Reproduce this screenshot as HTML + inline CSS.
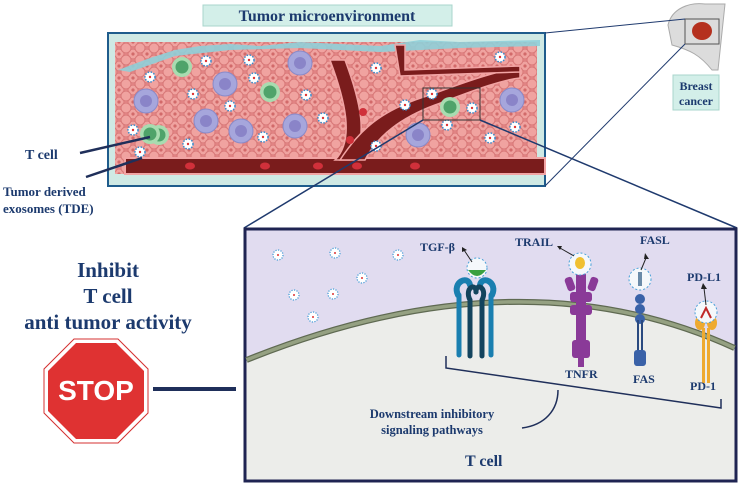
<!DOCTYPE html>
<html><head><meta charset="utf-8"><style>
html,body{margin:0;padding:0;background:#fff;width:744px;height:486px;overflow:hidden}
svg{display:block}
text{font-family:"Liberation Serif",serif;font-weight:bold;fill:#1c3a6e}
</style></head><body>
<svg width="744" height="486" viewBox="0 0 744 486" xmlns="http://www.w3.org/2000/svg">
<defs>
<pattern id="cells" width="14" height="12" patternUnits="userSpaceOnUse">
<rect width="14" height="12" fill="#e98c8c"/>
<circle cx="7" cy="6" r="5" fill="#f0a3a0" stroke="#d87878" stroke-width="1"/>
<circle cx="0" cy="0" r="5" fill="#f0a3a0" stroke="#d87878" stroke-width="1"/>
<circle cx="14" cy="0" r="5" fill="#f0a3a0" stroke="#d87878" stroke-width="1"/>
<circle cx="0" cy="12" r="5" fill="#f0a3a0" stroke="#d87878" stroke-width="1"/>
<circle cx="14" cy="12" r="5" fill="#f0a3a0" stroke="#d87878" stroke-width="1"/>
<circle cx="7" cy="6" r="1.6" fill="#d26a6a"/>
</pattern>
<g id="exo"><circle r="5" fill="#fff" stroke="#3a8ccc" stroke-width="1.5" stroke-dasharray="1.5 1.5"/><circle r="1.2" fill="#d33"/></g>
<g id="tc"><circle r="10" fill="#a8dcb0"/><circle r="6.5" fill="#4fa36a"/></g>
<g id="mc"><circle r="12" fill="#a6a6dc" stroke="#8a8ac8"/><circle r="6" fill="#8a84c8"/></g>
<g id="sexo"><circle r="5" fill="#fff" stroke="#4aa0d8" stroke-width="1.3" stroke-dasharray="1.2 1.4"/><circle r="1" fill="#d33"/></g>
</defs>

<!-- title -->
<rect x="203" y="5" width="249" height="21" fill="#d3efe9" stroke="#a8d6cc"/>
<text x="327" y="21" font-size="16" text-anchor="middle">Tumor microenvironment</text>

<!-- tissue box -->
<rect x="108" y="33" width="437" height="153" fill="#cfe9e4" stroke="#1f5c8c" stroke-width="2"/>
<rect x="115" y="42" width="422" height="132" fill="url(#cells)"/>
<!-- fibroblasts/top -->
<path d="M118 70 L150 58 L175 50 L200 46 L230 44 L260 46 L300 42 L340 44 L380 46 L420 40 L460 42 L540 40 L540 46 L460 48 L380 52 L300 48 L230 50 L175 56 L130 72 Z" fill="#8fcfd8" opacity="0.9"/>
<!-- vessels -->
<rect x="125" y="158" width="420" height="16" fill="#7a1c1c" stroke="#f2a4a4" stroke-width="2"/>
<path d="M335 160 C355 140 345 100 330 60 L345 60 C360 100 370 140 350 160 Z" fill="#7a1c1c" stroke="#f2a4a4" stroke-width="1.5"/>
<path d="M340 160 C360 130 380 110 430 95 C470 80 500 70 520 68 L520 78 C500 80 470 92 435 105 C395 120 375 140 365 160 Z" fill="#7a1c1c" stroke="#f2a4a4" stroke-width="1.5"/>
<path d="M395 45 L405 45 L405 70 L520 66 L520 72 L400 76 Z" fill="#7a1c1c" stroke="#f2a4a4" stroke-width="1.5"/>
<g fill="#d0303a"><ellipse cx="190" cy="166" rx="5" ry="3.5"/><ellipse cx="265" cy="166" rx="5" ry="3.5"/><ellipse cx="318" cy="166" rx="5" ry="3.5"/><ellipse cx="357" cy="166" rx="5" ry="3.5"/><ellipse cx="415" cy="166" rx="5" ry="3.5"/><ellipse cx="350" cy="140" rx="4" ry="4"/><ellipse cx="363" cy="112" rx="4" ry="4"/></g>
<!-- cells -->
<use href="#tc" x="182" y="67"/><use href="#tc" x="270" y="92"/><use href="#tc" x="159" y="135"/><use href="#tc" x="450" y="107"/><use href="#tc" x="150" y="134"/>
<use href="#mc" x="225" y="84"/><use href="#mc" x="146" y="101"/><use href="#mc" x="206" y="121"/><use href="#mc" x="241" y="131"/><use href="#mc" x="300" y="63"/><use href="#mc" x="295" y="126"/><use href="#mc" x="418" y="135"/><use href="#mc" x="512" y="100"/>
<use href="#exo" x="150" y="77"/><use href="#exo" x="206" y="61"/><use href="#exo" x="249" y="60"/><use href="#exo" x="193" y="94"/><use href="#exo" x="254" y="78"/><use href="#exo" x="230" y="106"/><use href="#exo" x="306" y="95"/><use href="#exo" x="323" y="118"/><use href="#exo" x="263" y="137"/><use href="#exo" x="188" y="144"/><use href="#exo" x="133" y="130"/><use href="#exo" x="140" y="152"/><use href="#exo" x="376" y="68"/><use href="#exo" x="405" y="105"/><use href="#exo" x="432" y="94"/><use href="#exo" x="472" y="108"/><use href="#exo" x="447" y="125"/><use href="#exo" x="376" y="146"/><use href="#exo" x="500" y="57"/><use href="#exo" x="515" y="127"/><use href="#exo" x="490" y="138"/>
<rect x="423" y="88" width="57" height="32" fill="none" stroke="#333" stroke-width="1"/>

<!-- breast icon -->
<path d="M668 25 C672 8 690 2 705 4 L725 4 L718 70 L712 70 C700 55 690 50 672 45 Z" fill="#dcdcdc" stroke="#aaa"/>
<rect x="685" y="19" width="34" height="25" fill="none" stroke="#555"/>
<ellipse cx="702" cy="31" rx="10" ry="9" fill="#b5301e"/>
<rect x="673" y="75" width="46" height="35" fill="#d3efe9" stroke="#a8d6cc"/>
<text x="696" y="90" font-size="12" text-anchor="middle">Breast</text>
<text x="696" y="105" font-size="12" text-anchor="middle">cancer</text>
<line x1="545" y1="33" x2="685" y2="19" stroke="#1f3a6e" stroke-width="1"/>
<line x1="545" y1="186" x2="685" y2="44" stroke="#1f3a6e" stroke-width="1"/>

<!-- zoom lines -->
<line x1="423" y1="120" x2="244" y2="228" stroke="#1f3a6e" stroke-width="1.5"/>
<line x1="480" y1="120" x2="737" y2="228" stroke="#1f3a6e" stroke-width="1.5"/>

<!-- left labels -->
<text x="25" y="159" font-size="14">T cell</text>
<line x1="80" y1="153" x2="150" y2="137" stroke="#1f2f5a" stroke-width="2.5"/>
<line x1="86" y1="177" x2="142" y2="158" stroke="#1f2f5a" stroke-width="2.5"/>
<text x="3" y="196" font-size="13">Tumor derived</text>
<text x="3" y="213" font-size="13">exosomes (TDE)</text>

<text x="108" y="277" font-size="21" text-anchor="middle">Inhibit</text>
<text x="108" y="303" font-size="21" text-anchor="middle">T cell</text>
<text x="108" y="329" font-size="21" text-anchor="middle">anti tumor activity</text>

<!-- stop -->
<polygon points="74,339 118,339 148,369 148,413 118,443 74,443 44,413 44,369" fill="#fff" stroke="#d43030" stroke-width="1"/>
<polygon points="76,343 116,343 144,371 144,411 116,439 76,439 48,411 48,371" fill="#df3232"/>
<text x="96" y="400" font-size="28" text-anchor="middle" style="font-family:'Liberation Sans',sans-serif;fill:#fff">STOP</text>
<line x1="153" y1="389" x2="236" y2="389" stroke="#1f2f5a" stroke-width="4"/>

<!-- bottom panel -->
<rect x="245" y="229" width="491" height="252" fill="#e1dcf0" stroke="#1f2452" stroke-width="3"/>
<path d="M246.5 360 Q520 250 734.5 348 L734.5 479.5 L246.5 479.5 Z" fill="#ecedea"/>
<path d="M246.5 360 Q520 250 734.5 348" fill="none" stroke="#5f6a52" stroke-width="6"/>
<path d="M246.5 360 Q520 250 734.5 348" fill="none" stroke="#95a182" stroke-width="3.5"/>
<use href="#sexo" x="278" y="255"/><use href="#sexo" x="335" y="253"/><use href="#sexo" x="398" y="255"/><use href="#sexo" x="362" y="278"/><use href="#sexo" x="294" y="295"/><use href="#sexo" x="333" y="294"/><use href="#sexo" x="313" y="317"/>

<!-- TGF receptor -->
<g stroke-linecap="round">
<path d="M458 295 C452 282 468 275 470 285" fill="none" stroke="#1a7fb0" stroke-width="6"/>
<path d="M492 295 C498 282 482 275 480 285" fill="none" stroke="#1a7fb0" stroke-width="6"/>
<line x1="459" y1="295" x2="459" y2="355" stroke="#1a7fb0" stroke-width="5"/>
<line x1="491" y1="295" x2="491" y2="355" stroke="#1a7fb0" stroke-width="5"/>
<path d="M470 300 C464 288 476 282 476 292" fill="none" stroke="#13445e" stroke-width="5"/>
<path d="M482 300 C488 288 476 282 476 292" fill="none" stroke="#13445e" stroke-width="5"/>
<line x1="470" y1="300" x2="470" y2="356" stroke="#13445e" stroke-width="5"/>
<line x1="482" y1="300" x2="482" y2="356" stroke="#13445e" stroke-width="5"/>
</g>
<circle cx="477" cy="268" r="10" fill="#f5f8fb" stroke="#4aa0d8" stroke-dasharray="2 2"/>
<path d="M468 270 Q477 282 486 270 Z" fill="#3aa040"/>
<line x1="472" y1="262" x2="464" y2="250" stroke="#222" stroke-width="1"/><polygon points="462,247 467,250 462,252" fill="#222"/>
<text x="420" y="251" font-size="12">TGF-β</text>

<!-- TNFR -->
<g fill="#8a3a98">
<rect x="566" y="277" width="8" height="14" rx="3" transform="rotate(-20 570 284)"/>
<rect x="589" y="277" width="8" height="14" rx="3" transform="rotate(20 593 284)"/>
<rect x="576" y="272" width="10" height="80" rx="3"/>
<rect x="570" y="292" width="22" height="10" rx="3"/>
<rect x="570" y="305" width="22" height="10" rx="3"/>
<rect x="572" y="340" width="18" height="18" rx="3"/>
<rect x="578" y="355" width="6" height="12"/>
</g>
<circle cx="580" cy="264" r="11" fill="#f5f8fb" stroke="#4aa0d8" stroke-dasharray="2 2"/>
<ellipse cx="580" cy="263" rx="5" ry="6" fill="#f0c030"/>
<line x1="574" y1="256" x2="560" y2="248" stroke="#222"/><polygon points="557,246 562,246 560,250" fill="#222"/>
<text x="515" y="246" font-size="12">TRAIL</text>
<text x="565" y="378" font-size="12">TNFR</text>

<!-- FAS -->
<g fill="#3a62a8">
<circle cx="640" cy="299" r="5"/><circle cx="640" cy="309" r="5"/><circle cx="640" cy="319" r="5"/>
<line x1="638" y1="320" x2="638" y2="355" stroke="#2a4a80" stroke-width="2"/>
<line x1="642" y1="320" x2="642" y2="355" stroke="#2a4a80" stroke-width="2"/>
<rect x="634" y="350" width="12" height="16" rx="3"/>
</g>
<circle cx="640" cy="279" r="11" fill="#f5f8fb" stroke="#4aa0d8" stroke-dasharray="2 2"/>
<rect x="638" y="272" width="4" height="14" fill="#6a8aa8"/>
<line x1="641" y1="270" x2="646" y2="258" stroke="#222"/><polygon points="645,253 649,259 644,259" fill="#222"/>
<text x="640" y="244" font-size="12">FASL</text>
<text x="633" y="383" font-size="12">FAS</text>

<!-- PD-1 -->
<g fill="#eeaa30">
<ellipse cx="700" cy="323" rx="5" ry="7"/><ellipse cx="712" cy="323" rx="5" ry="7"/>
<rect x="702" y="328" width="3" height="55"/><rect x="707" y="328" width="3" height="55"/>
</g>
<circle cx="706" cy="312" r="11" fill="#f5f8fb" stroke="#4aa0d8" stroke-dasharray="2 2"/>
<path d="M701 318 L706 308 L711 318" fill="none" stroke="#c02a2a" stroke-width="2"/>
<line x1="706" y1="305" x2="704" y2="288" stroke="#222"/><polygon points="703,283 707,289 701,289" fill="#222"/>
<text x="687" y="281" font-size="12">PD-L1</text>
<text x="690" y="390" font-size="12">PD-1</text>

<!-- bracket -->
<polyline points="446,356 446,368 721,408 721,399" fill="none" stroke="#1f2f5a" stroke-width="1.5"/>
<path d="M558 390 C558 410 545 425 522 428" fill="none" stroke="#1f2f5a" stroke-width="1.5"/>
<text x="432" y="418" font-size="12.5" text-anchor="middle">Downstream inhibitory</text>
<text x="432" y="434" font-size="12.5" text-anchor="middle">signaling pathways</text>
<text x="465" y="466" font-size="16">T cell</text>
</svg>
</body></html>
